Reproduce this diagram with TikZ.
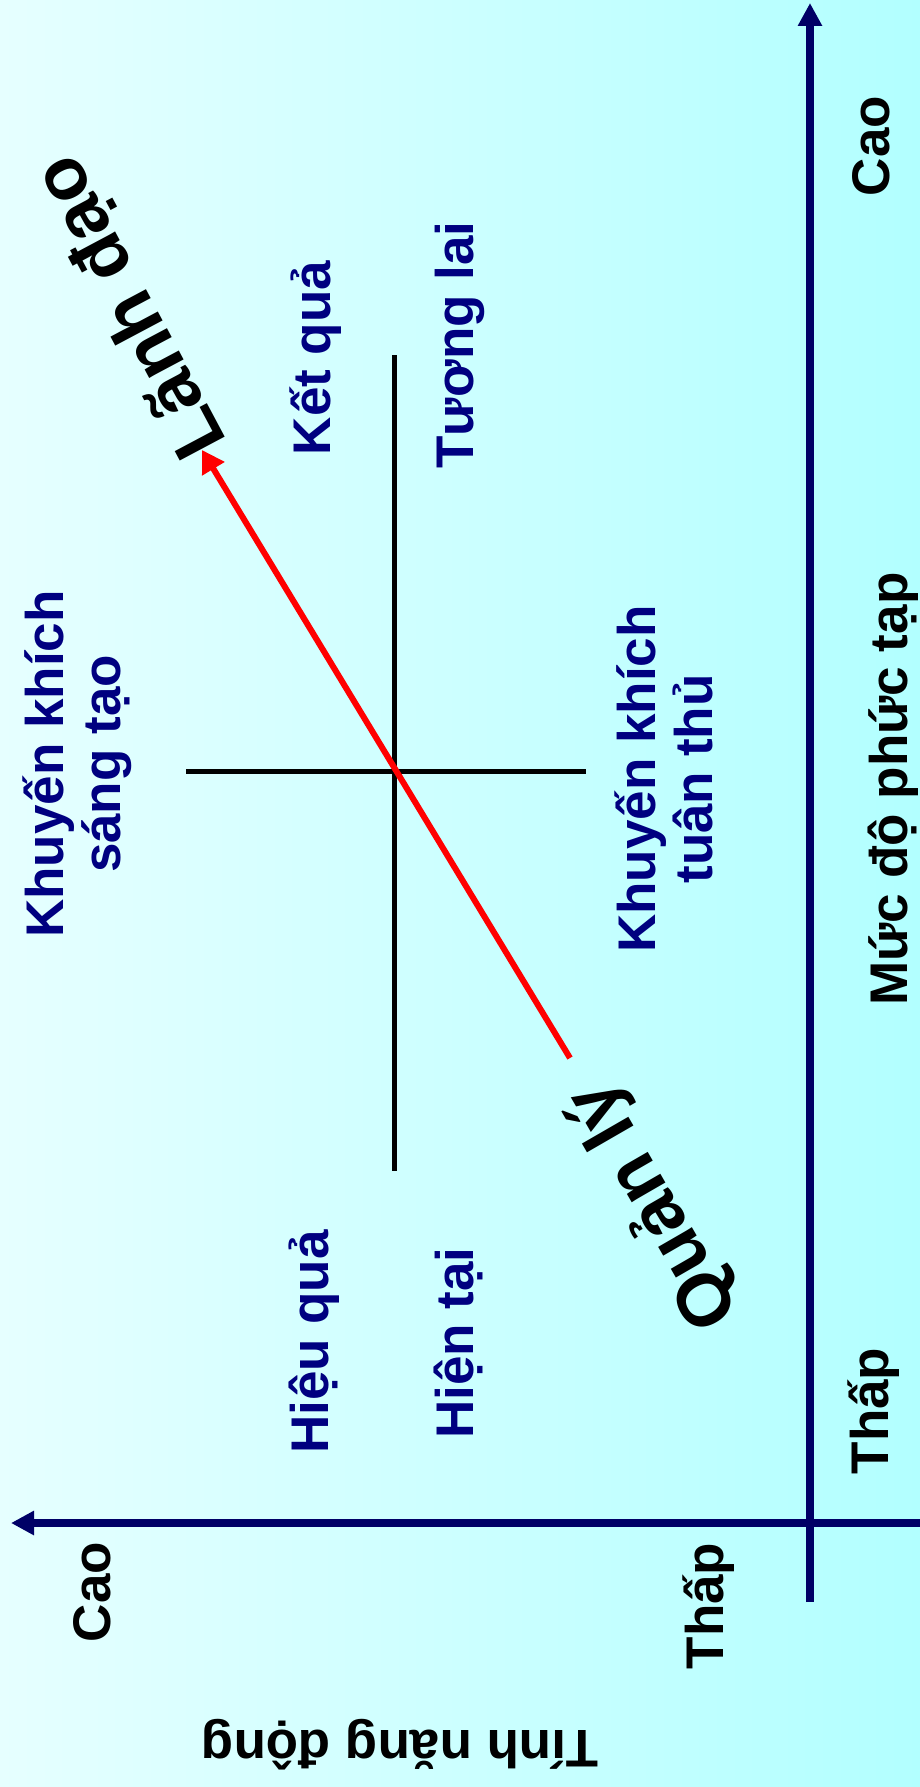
\documentclass[tikz,border=0pt]{standalone}
\usepackage{fontspec}
\setmainfont{Liberation Sans}
\usetikzlibrary{arrows.meta}
\definecolor{bgL}{RGB}{230,255,255}
\definecolor{bgR}{RGB}{178,255,255}
\definecolor{axisblue}{RGB}{0,0,102}
\definecolor{lblblue}{RGB}{0,0,128}
\begin{document}
\begin{tikzpicture}[x=1pt,y=-1pt,
  lbl/.style={font=\fontsize{53}{57}\selectfont\bfseries, text=lblblue, inner sep=0pt},
  blk/.style={font=\fontsize{53}{57}\selectfont\bfseries, text=black, inner sep=0pt},
  big/.style={font=\fontsize{74}{80}\selectfont\bfseries, text=black, inner sep=0pt},
  axisline/.style={draw=axisblue, line width=8pt, -{Triangle[length=23pt,width=23pt]}},
  crossline/.style={draw=black, line width=5pt},
  redarrow/.style={draw=red, line width=6pt, -{Triangle[length=22pt,width=25pt]}}]
\fill[left color=bgL, right color=bgR] (0,0) rectangle (920,1787);
\useasboundingbox (0,0) rectangle (920,1787);
% axes
\coordinate (vbot) at (810,1602);
\coordinate (vtop) at (810,3);
\coordinate (hright) at (920,1523);
\coordinate (hleft) at (11,1523);
\draw[axisline] (vbot) -- (vtop);
\draw[axisline] (hright) -- (hleft);
% cross
\coordinate (ctop) at (394,355);
\coordinate (cbot) at (394,1171);
\coordinate (cleft) at (186,771);
\coordinate (cright) at (586,771);
\draw[crossline] (ctop) -- (cbot);
\draw[crossline] (cleft) -- (cright);
% red arrow
\coordinate (qtail) at (570,1058);
\coordinate (ltip) at (202,450);
\draw[redarrow] (qtail) -- (ltip);
% blue labels
\node[lbl, rotate=90, anchor=base] (ketqua) at (330,358) {Kết quả};
\node[lbl, rotate=90, anchor=base] (tuonglai) at (473,345) {Tương lai};
\node[lbl, rotate=90, anchor=base] (hieuqua) at (328,1342) {Hiệu quả};
\node[lbl, rotate=90, anchor=base] (hientai) at (473,1343) {Hiện tại};
\node[lbl, rotate=90, align=center] (sangtao) at (77,764) {Khuyến khích\\sáng tạo};
\node[lbl, rotate=90, align=center] (tuanthu) at (664,779) {Khuyến khích\\tuân thủ};
% black labels
\node[blk, rotate=90, anchor=base] (mucdo) at (907,789) {Mức độ phức tạp};
\node[blk, rotate=90, anchor=base] (caoR) at (889,146) {Cao};
\node[blk, rotate=90, anchor=base] (thapR) at (888,1411) {Thấp};
\node[blk, rotate=90, anchor=base] (caoL) at (110,1592) {Cao};
\node[blk, rotate=90, anchor=base] (thapL) at (723,1606) {Thấp};
\node[blk, rotate=180, anchor=base] (tinhnang) at (400,1730) {Tính năng động};
\node[big, rotate=118, anchor=base] (lanhdao) at (150,296) {Lãnh đạo};
\node[big, rotate=120, anchor=base] (quanly) at (673,1195) {Quản lý};
\end{tikzpicture}
\end{document}
